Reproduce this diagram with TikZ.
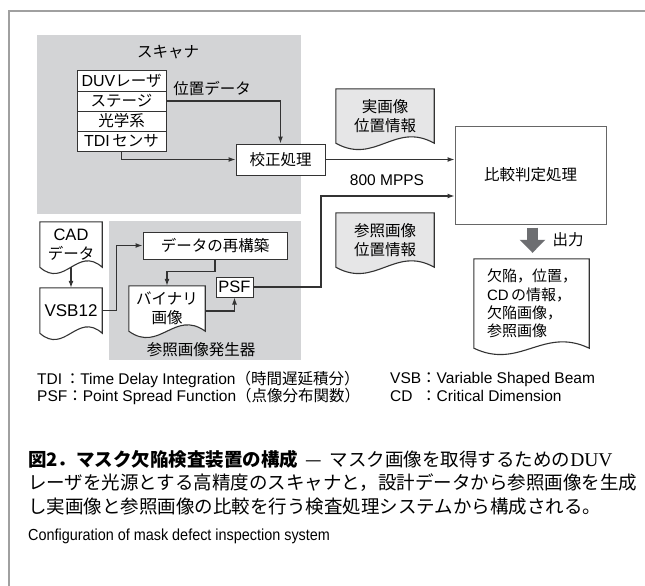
\documentclass[tikz,border=0pt]{standalone}
\usepackage{fontspec}
\setmainfont{Noto Sans CJK JP}
\newfontfamily\lat{Liberation Sans}
\newfontfamily\latserif{Liberation Serif}
\newfontfamily\latc{Liberation Sans}[FakeStretch=0.9]
\usetikzlibrary{arrows.meta,calc,backgrounds}
\definecolor{bggray}{HTML}{D3D4D6}
\definecolor{docgray}{HTML}{E6E6E7}
\definecolor{linec}{HTML}{333333}
\definecolor{cmpc}{HTML}{666666}
\definecolor{framec}{HTML}{A0A0A0}
\definecolor{outarrow}{HTML}{6D6E71}
\newcommand\wavy[2]{%
  \path[draw=linec, line width=1.1pt, fill=#2] (#1.north west) -- (#1.north east) -- (#1.south east)
    .. controls ($(#1.south east)!0.4!(#1.south west)+(0,-22)$) and ($(#1.south east)!0.6!(#1.south west)+(0,22)$) .. (#1.south west) -- cycle;}
\begin{document}
\begin{tikzpicture}[x=1pt,y=-1pt,
  bgbox/.style={fill=bggray, draw=none, inner sep=0pt},
  box/.style={draw=linec, line width=1pt, fill=white, inner sep=0pt, font=\fontsize{15.5}{18}\selectfont},
  lbl/.style={inner sep=0pt, font=\fontsize{15.5}{18}\selectfont},
  doc/.style={inner sep=0pt, align=center, font=\fontsize{15.5}{18.5}\selectfont},
  leg/.style={inner sep=0pt, anchor=west, font=\fontsize{15.5}{17}\selectfont},
  captxt/.style={inner sep=0pt, anchor=west, font=\fontsize{18.5}{22}\selectfont},
  arr/.style={draw=linec, line width=1.2pt, -{Latex[length=7pt,width=5pt]}}]
\useasboundingbox (0,0) rectangle (645,586);
% frame
\coordinate (ftl) at (9,11);
\coordinate (ftr) at (645,11);
\coordinate (fbl) at (9,586);
\draw[framec, line width=1.6pt] (ftr) -- (ftl) -- (fbl);
\begin{pgfonlayer}{background}
\fill[white] (0,0) rectangle (645,586);
\node[bgbox, minimum width=264, minimum height=179] (scanner) at (169,124.5) {};
\node[bgbox, minimum width=192, minimum height=139] (refgen) at (205,290.5) {};
\end{pgfonlayer}
\node[lbl] (scannerlbl) at (168,52) {スキャナ};
\node[lbl] (refgenlbl) at (201,350) {参照画像発生器};
% scanner stack
\node[box, minimum width=89, minimum height=20] (duv) at (121.5,81) {{\lat\fontsize{16}{18}\selectfont DUV}レーザ};
\node[box, minimum width=89, minimum height=20] (stage) at (121.5,101) {ステージ};
\node[box, minimum width=89, minimum height=20] (optics) at (121.5,121) {光学系};
\node[box, minimum width=89, minimum height=20] (tdi) at (121.5,141) {{\lat\fontsize{16}{18}\selectfont TDI}\,センサ};
\node[lbl] (posdata) at (212,89) {位置データ};
\node[box, minimum width=89, minimum height=31] (cal) at (280.5,159.5) {校正処理};
\node[box, draw=cmpc, minimum width=151, minimum height=98] (cmp) at (530.5,175) {比較判定処理};
\node[doc, minimum width=98, minimum height=54] (real) at (385,116) {実画像\\位置情報};
\node[doc, minimum width=98, minimum height=54] (ref) at (385,240) {参照画像\\位置情報};
\node[lbl] (mpps) at (387,180) {\lat 800 MPPS};
\node[doc, minimum width=62, minimum height=45] (cad) at (71,244.5) {{\lat\fontsize{16.5}{18}\selectfont CAD}\\データ};
\node[doc, minimum width=62, minimum height=45] (vsb) at (71,310.5) {\lat\fontsize{17}{18}\selectfont VSB12};
\node[box, minimum width=144, minimum height=27] (recon) at (215,245.5) {データの再構築};
\node[doc, minimum width=76, minimum height=45] (bin) at (167,308.5) {バイナリ\\画像};
\node[box, minimum width=37, minimum height=20] (psf) at (234.5,287) {\lat\fontsize{16.5}{18}\selectfont PSF};
\node[doc, minimum width=115, minimum height=89, text width=89, align=left, font=\fontsize{15}{18.3}\selectfont] (out) at (531.5,303.5) {欠陥，位置，\\{\lat CD}\,の情報，\\欠陥画像，\\参照画像};
\node[lbl] (outlbl) at (568,240) {出力};
% document shapes
\begin{pgfonlayer}{background}
\wavy{real}{docgray}
\wavy{ref}{docgray}
\wavy{cad}{white}
\wavy{vsb}{white}
\wavy{bin}{white}
\wavy{out}{white}
\end{pgfonlayer}
% connectors
\draw[arr] (stage.east) -| (cal.north);
\draw[arr] (tdi.south) |- (cal.west);
\draw[arr] (cal.east) -- (cal.east -| cmp.west);
\coordinate (bend) at (321,196);
\draw[arr] (psf.east) -| (bend) -- (bend -| cmp.west);
\draw[arr] (cad.south) -- (vsb.north);
\draw[arr] (vsb.east) -- ++(14,0) |- (recon.west);
\draw[arr] (recon.south) -- ++(0,12) -| (bin.north);
\draw[arr] ($(bin.east)+(0,2.5)$) -| (psf.south);
\draw[outarrow, line width=11pt, -{Triangle[width=25pt,length=13pt]}] ($(cmp.south)+(2,3)$) -- ($(out.north)+(1,-6)$);
% legend
\node[leg] (legtdi) at (37,379) {{\lat TDI}\,：{\lat Time Delay Integration}（時間遅延積分）};
\node[leg] (legpsf) at (37,396) {{\lat PSF}：{\lat Point Spread Function}（点像分布関数）};
\node[leg] (legvsb) at (390,379) {{\lat VSB}：{\lat Variable Shaped Beam}};
\node[leg] (legcd) at (390,396) {{\lat\rlap{CD}\hphantom{VSB}}：{\lat Critical Dimension}};
% caption
\node[captxt] (cap1) at (28,459) {{\bfseries 図2．マスク欠陥検査装置の構成}\hspace{0.4em}—\hspace{0.4em}マスク画像を取得するための{\latserif\fontsize{19.5}{22}\selectfont DUV}};
\node[captxt] (cap2) at (28,483) {レーザを光源とする高精度のスキャナと，設計データから参照画像を生成};
\node[captxt] (cap3) at (28,507) {し実画像と参照画像の比較を行う検査処理システムから構成される。};
\node[inner sep=0pt, anchor=west, font=\latc\fontsize{16}{18}\selectfont] (eng) at (28,536) {Configuration of mask defect inspection system};
\end{tikzpicture}
\end{document}
